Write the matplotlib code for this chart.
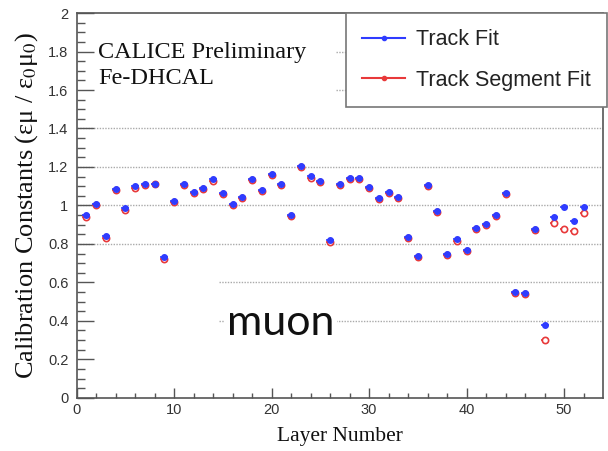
import numpy as np
import matplotlib
matplotlib.use("Agg")
import matplotlib.pyplot as plt
from matplotlib.lines import Line2D

plt.rcParams["mathtext.fontset"] = "stix"

layers = np.arange(1, 53)
track_fit = [0.948, 1.010, 0.840, 1.085, 0.988, 1.100, 1.112, 1.114, 0.730, 1.025,
             1.113, 1.070, 1.090, 1.136, 1.063, 1.007, 1.045, 1.137, 1.080, 1.165,
             1.112, 0.951, 1.207, 1.152, 1.127, 0.818, 1.110, 1.141, 1.141, 1.096,
             1.040, 1.072, 1.045, 0.835, 0.738, 1.108, 0.972, 0.750, 0.824, 0.770,
             0.884, 0.905, 0.951, 1.066, 0.548, 0.545, 0.880, 0.380, 0.938, 0.992,
             0.921, 0.992]
segment_fit = [0.940, 1.004, 0.832, 1.078, 0.975, 1.092, 1.104, 1.110, 0.720, 1.016,
               1.108, 1.063, 1.083, 1.129, 1.057, 1.000, 1.039, 1.130, 1.073, 1.158,
               1.106, 0.945, 1.200, 1.145, 1.120, 0.812, 1.104, 1.135, 1.135, 1.090,
               1.033, 1.065, 1.038, 0.829, 0.732, 1.100, 0.968, 0.744, 0.817, 0.763,
               0.878, 0.898, 0.944, 1.058, 0.544, 0.542, 0.874, 0.300, 0.910, 0.877,
               0.868, 0.960]

BLUE = "#2f3cff"
RED = "#e8393a"
AX_COL = "#555555"
GRID = dict(color="#aaaaaa", lw=1.0, ls=(0, (1, 1)), zorder=1)

fig = plt.figure(figsize=(6.08, 4.51), dpi=100)
ax = fig.add_axes([0.126, 0.118, 0.866, 0.853])

# dotted reference lines (partly hidden behind the labels)
for y in [0.8, 1.0, 1.2, 1.4]:
    ax.axhline(y, **GRID)
for y in [0.4, 0.6]:
    ax.hlines(y, 14.6, 54, **GRID)
for y in [1.6, 1.8]:
    ax.hlines(y, 26.6, 54, **GRID)

ax.errorbar(layers, segment_fit, xerr=0.4, fmt="o", ms=4.5, mfc="white", mec=RED,
            mew=1.2, ecolor=RED, elinewidth=1.2, capsize=0, zorder=3)
ax.errorbar(layers, track_fit, xerr=0.4, fmt="o", ms=4.0, mfc=BLUE, mec=BLUE,
            ecolor=BLUE, elinewidth=1.2, capsize=0, zorder=4)

ax.set_xlim(0, 54)
ax.set_ylim(0, 2)
ax.set_xticks([0, 10, 20, 30, 40, 50])
ax.set_xticks(np.arange(0, 54, 2), minor=True)
ax.set_yticks([0, 0.2, 0.4, 0.6, 0.8, 1.0, 1.2, 1.4, 1.6, 1.8, 2.0])
ax.set_yticklabels(["0", "0.2", "0.4", "0.6", "0.8", "1", "1.2", "1.4", "1.6", "1.8", "2"])
ax.set_yticks(np.arange(0, 2.0001, 0.05), minor=True)
ax.tick_params(axis="both", which="both", direction="in", color=AX_COL,
               labelcolor="#333333", labelsize=10.5)
ax.tick_params(axis="x", which="major", length=7, width=1, pad=4)
ax.tick_params(axis="x", which="minor", length=3.5, width=1)
ax.tick_params(axis="y", which="major", length=12, width=1, pad=6)
ax.tick_params(axis="y", which="minor", length=6, width=1)
for lbl in ax.get_xticklabels() + ax.get_yticklabels():
    lbl.set_fontfamily("Liberation Sans")
for side in ax.spines.values():
    side.set_color(AX_COL)
    side.set_linewidth(1.2)

ax.set_xlabel("Layer Number", fontfamily="Liberation Serif", fontsize=15.5,
              color="#111111", labelpad=7)
ax.set_ylabel("Calibration Constants (εμ / ε$_0$μ$_0$)",
              fontfamily="Liberation Serif", fontsize=19, color="#111111", labelpad=6)

ax.text(0.041, 0.925, "CALICE Preliminary\nFe-DHCAL", transform=ax.transAxes,
        fontfamily="Liberation Serif", fontsize=17.5, color="#111111", va="top",
        ha="left", linespacing=1.3, zorder=5)

ax.text(0.388, 0.195, "muon", transform=ax.transAxes, fontfamily="Lato",
        fontsize=31, color="#111111", ha="center", va="center",
        bbox=dict(facecolor="white", edgecolor="none", pad=2), zorder=5)

handles = [Line2D([], [], color=BLUE, lw=1.5, marker="o", ms=3),
           Line2D([], [], color=RED, lw=1.5, marker="o", ms=3)]
leg = ax.legend(handles, ["Track Fit", "Track Segment Fit"], loc="upper right",
                bbox_to_anchor=(607 / 608, 1 - 13 / 451),
                bbox_transform=fig.transFigure, fancybox=False, framealpha=1,
                edgecolor="#777777", prop={"family": "Liberation Sans", "size": 15.5},
                handlelength=2.0, handletextpad=0.5, labelspacing=0.9,
                borderpad=0.75, borderaxespad=0)
leg.get_frame().set_linewidth(1.2)
for t in leg.get_texts():
    t.set_color("#222222")
leg.set_zorder(6)

fig.savefig("out.png", dpi=100)
